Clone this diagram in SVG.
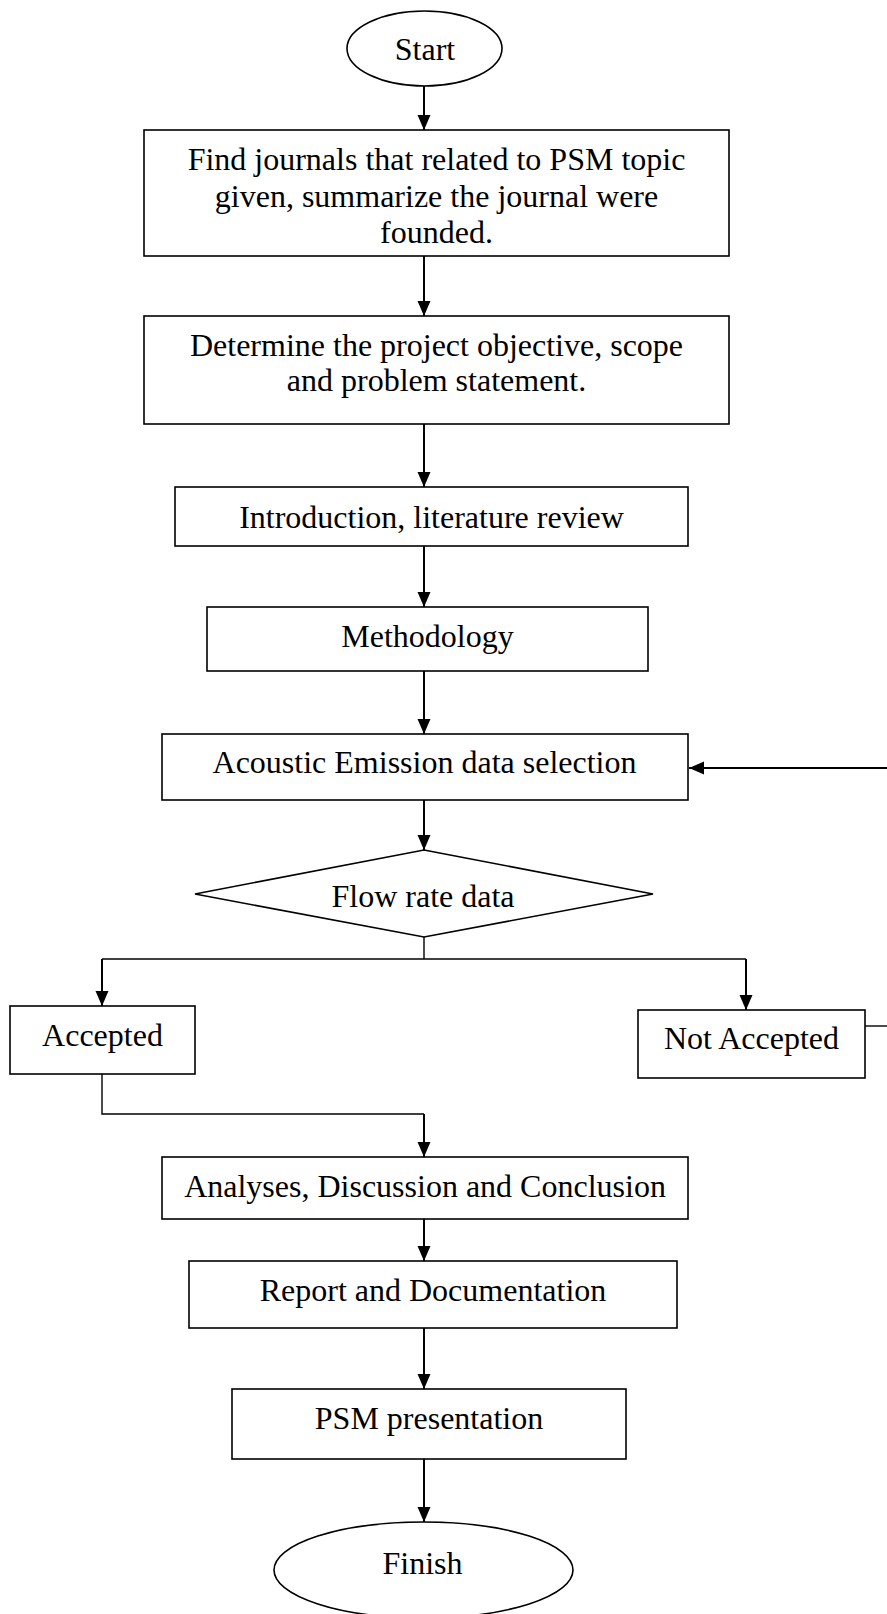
<svg xmlns="http://www.w3.org/2000/svg" width="887" height="1614" viewBox="0 0 887 1614">
<style>
.box{fill:#fff;stroke:#000;stroke-width:1.6}
.t{font-family:"Liberation Serif","Times New Roman",serif;font-size:32px;fill:#000;text-anchor:middle}
.arr{fill:none;stroke:#000;stroke-width:2;marker-end:url(#ah)}
.ln{fill:none;stroke:#000;stroke-width:1.4}
</style>
<defs>
<marker id="ah" markerUnits="userSpaceOnUse" markerWidth="16" markerHeight="14" refX="15" refY="6.5" orient="auto">
<path d="M0,0 L15,6.5 L0,13 z" fill="#000"/>
</marker>
</defs>
<rect width="887" height="1614" fill="#fff"/>
<g id="connectors">
<path class="arr" d="M424,86 V130"/>
<path class="arr" d="M424,256 V316"/>
<path class="arr" d="M424,424 V487"/>
<path class="arr" d="M424,546 V607"/>
<path class="arr" d="M424,671 V734"/>
<path class="arr" d="M424,800 V850"/>
<path class="ln" d="M424,937 V959 M102,959 H746"/>
<path class="arr" d="M102,959 V1006"/>
<path class="arr" d="M746,959 V1010"/>
<path class="ln" d="M102,1074 V1114 H424"/>
<path class="arr" d="M424,1114 V1157"/>
<path class="arr" d="M424,1219 V1261"/>
<path class="arr" d="M424,1328 V1389"/>
<path class="arr" d="M424,1459 V1522"/>
<path class="arr" d="M887,768 H689"/>
<path class="ln" d="M865,1026 H887"/>
</g>
<g id="start">
<ellipse class="box" cx="424.5" cy="48.5" rx="77.5" ry="37.5"/>
<text class="t" x="425" y="60">Start</text>
</g>
<g id="find">
<rect class="box" x="144" y="130" width="585" height="126"/>
<text class="t" x="436.5" y="170">Find journals that related to PSM topic</text>
<text class="t" x="436.5" y="206.5">given, summarize the journal were</text>
<text class="t" x="436.5" y="243">founded.</text>
</g>
<g id="determine">
<rect class="box" x="144" y="316" width="585" height="108"/>
<text class="t" x="436.5" y="356">Determine the project objective, scope</text>
<text class="t" x="436.5" y="391">and problem statement.</text>
</g>
<g id="intro">
<rect class="box" x="175" y="487" width="513" height="59"/>
<text class="t" x="431.5" y="528">Introduction, literature review</text>
</g>
<g id="method">
<rect class="box" x="207" y="607" width="441" height="64"/>
<text class="t" x="427.5" y="647">Methodology</text>
</g>
<g id="ae">
<rect class="box" x="162" y="734" width="526" height="66"/>
<text class="t" x="424.5" y="773">Acoustic Emission data selection</text>
</g>
<g id="flow">
<polygon class="box" points="424,850 653,894 424,937 195,894"/>
<text class="t" x="423" y="907">Flow rate data</text>
</g>
<g id="accepted">
<rect class="box" x="10" y="1006" width="185" height="68"/>
<text class="t" x="102.5" y="1046">Accepted</text>
</g>
<g id="notaccepted">
<rect class="box" x="638" y="1010" width="227" height="68"/>
<text class="t" x="751.5" y="1049">Not Accepted</text>
</g>
<g id="analyses">
<rect class="box" x="162" y="1157" width="526" height="62"/>
<text class="t" x="425" y="1197">Analyses, Discussion and Conclusion</text>
</g>
<g id="report">
<rect class="box" x="189" y="1261" width="488" height="67"/>
<text class="t" x="433" y="1301">Report and Documentation</text>
</g>
<g id="psm">
<rect class="box" x="232" y="1389" width="394" height="70"/>
<text class="t" x="429" y="1429">PSM presentation</text>
</g>
<g id="finish">
<ellipse class="box" cx="423.5" cy="1570" rx="149.5" ry="48"/>
<text class="t" x="422.5" y="1574">Finish</text>
</g>
</svg>
